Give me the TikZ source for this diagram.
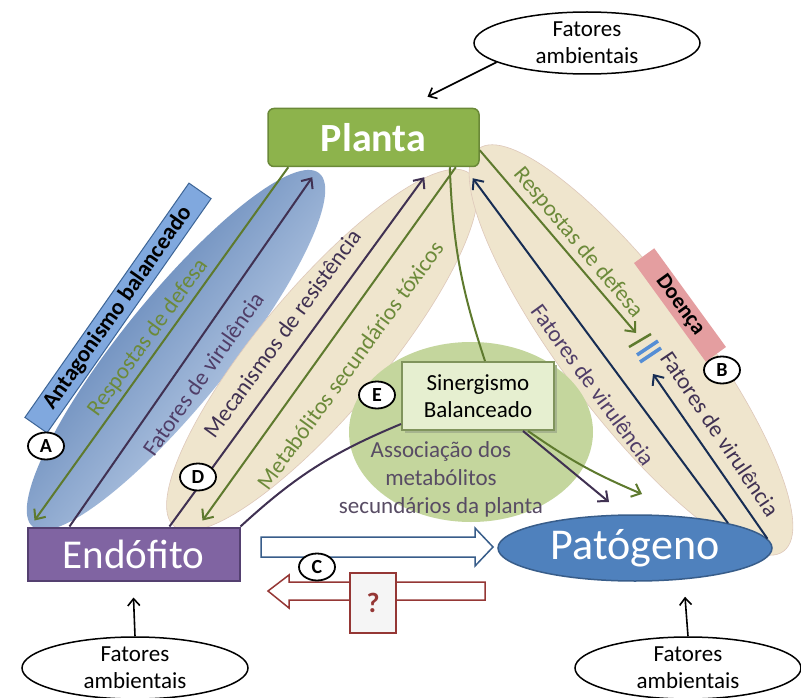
\documentclass[tikz,border=0pt]{standalone}
\usepackage{fontspec}
\setmainfont{Carlito}
\usetikzlibrary{shapes.geometric,arrows.meta}

\definecolor{plantaGreen}{RGB}{141,179,76}
\definecolor{plantaDark}{RGB}{106,137,56}
\definecolor{endoPurple}{RGB}{128,100,162}
\definecolor{endoDark}{RGB}{84,64,112}
\definecolor{patoBlue}{RGB}{79,129,189}
\definecolor{patoDark}{RGB}{56,93,138}
\definecolor{lineGreen}{RGB}{94,122,46}
\definecolor{textGreen}{RGB}{108,138,58}
\definecolor{linePurple}{RGB}{64,49,82}
\definecolor{textPurple}{RGB}{80,62,104}
\definecolor{lineNavy}{RGB}{23,45,84}
\definecolor{tanFill}{RGB}{239,229,205}
\definecolor{tanLine}{RGB}{222,200,186}
\definecolor{blueDark}{RGB}{64,106,166}
\definecolor{blueLight}{RGB}{214,227,245}
\definecolor{greenE}{RGB}{196,214,157}
\definecolor{sinFill}{RGB}{230,239,208}
\definecolor{sinLine}{RGB}{128,148,92}
\definecolor{assocGray}{RGB}{88,76,100}
\definecolor{antagFill}{RGB}{128,168,222}
\definecolor{antagLine}{RGB}{60,100,150}
\definecolor{doencaFill}{RGB}{228,158,160}
\definecolor{barBlue}{RGB}{85,142,213}
\definecolor{redLine}{RGB}{149,55,53}

\newcommand{\fsize}[2]{\fontsize{#1}{#2}\selectfont}

\begin{document}
\begin{tikzpicture}[x=1pt,y=-1pt,
  lab/.style={inner sep=0,font=\fsize{23}{27}},
  lbl/.style={ellipse,draw,line width=1.8pt,fill=white,minimum width=36,minimum height=27,inner sep=0,font=\fsize{20}{20}\bfseries},
  amb/.style={ellipse,draw,line width=1.5pt,fill=white,minimum width=226,minimum height=62,inner sep=0,align=center,font=\fsize{23}{27}},
  tanell/.style={ellipse,fill=tanFill,draw=tanLine,line width=0.6pt,inner sep=0},
  arrG/.style={draw=lineGreen,line width=2pt,-{Straight Barb[length=8pt,width=14pt]}},
  arrP/.style={draw=linePurple,line width=2pt,-{Straight Barb[length=8pt,width=14pt]}},
  arrN/.style={draw=lineNavy,line width=2pt,-{Straight Barb[length=8pt,width=14pt]}},
  arrK/.style={draw=black,line width=1.6pt,-{Straight Barb[length=7pt,width=12pt]}}
]
  \fill[white] (0,0) rectangle (801,698);
  \useasboundingbox (0,0) rectangle (801,698);

  % fundos
  \node[ellipse,inner sep=0,minimum width=455,minimum height=108,rotate=51,
        top color=blueDark,bottom color=blueLight,shading angle=51] (ellA) at (176,350) {};
  \node[tanell,minimum width=460,minimum height=125,rotate=50] (ellD) at (322,350) {};
  \node[tanell,minimum width=505,minimum height=135,rotate=-52.8] (ellB) at (631,350) {};
  \node[ellipse,fill=greenE,inner sep=0,minimum width=244,minimum height=180] (ellE) at (471,432) {};

  \node[draw=antagLine,fill=antagFill,line width=1pt,minimum width=286,minimum height=27,inner sep=0,
        rotate=55,font=\fsize{23}{23}\bfseries] (antag) at (118,308) {Antagonismo balanceado};
  \node[fill=doencaFill,minimum width=122,minimum height=25,inner sep=0,
        rotate=-54,font=\fsize{22}{22}\bfseries] (doenca) at (680,305) {Doença};

  \node[amb] (ambP) at (587,43) {Fatores\\ambientais};
  \node[amb] (ambE) at (135,668) {Fatores\\ambientais};
  \node[amb] (ambG) at (688,668) {Fatores\\ambientais};

  \node[rectangle,rounded corners=6,fill=plantaGreen,draw=plantaDark,line width=1.5pt,
        minimum width=211,minimum height=58,text=white,font=\fsize{40}{40}\bfseries] (planta) at (373.5,137.5) {Planta};
  \node[rectangle,fill=endoPurple,draw=endoDark,line width=2pt,
        minimum width=212,minimum height=53,text=white,font=\fsize{41}{41}] (endofito) at (133.5,554) {Endófito};
  \node[ellipse,fill=patoBlue,draw=patoDark,line width=1.5pt,inner sep=0,
        minimum width=274,minimum height=66,text=white,font=\fsize{44}{44}] (patogeno) at (635,548) {Patógeno};
  \fill[sinLine!70] (405,365) rectangle (557,433);
  \node[rectangle,fill=sinFill,draw=sinLine,line width=2pt,minimum width=152,minimum height=68,
        align=center,font=\fsize{23}{27}] (sinerg) at (478,396) {Sinergismo\\Balanceado};

  % setas das elipses
  \coordinate (stopG) at (636,333);
  \coordinate (stopN) at (653,374);
  \coordinate (tipP) at (609,502);
  \coordinate (tipG) at (642,494);
  \draw[arrG] ([shift={(21,0)}]planta.south west) -- ([shift={(8,-6)}]endofito.north west);
  \draw[arrP] ([shift={(43,0)}]endofito.north west) -- ([shift={(45,10)}]planta.south west);
  \draw[arrP] ([shift={(143,0)}]endofito.north west) -- ([shift={(157,10)}]planta.south west);
  \draw[arrG] ([shift={(-24,0)}]planta.south east) -- ([shift={(176,-6)}]endofito.north west);
  \draw[arrG] ([shift={(0,-17)}]planta.south east) -- (stopG);
  \draw[arrN] (patogeno.15) -- ([shift={(-7,11)}]planta.south east);
  \draw[arrN] (patogeno.4) -- (stopN);
  \draw[lineGreen,line width=2.5pt] (629,347) -- (651,334);
  \draw[barBlue,line width=3.5pt] (637,355) -- (658,341);
  \draw[barBlue,line width=3.5pt] (640,362) -- (661,348);

  \draw[lineGreen,line width=2pt] ([shift={(-30,0)}]planta.south east) to[bend right=8] ([shift={(7,0)}]sinerg.north);
  \draw[linePurple,line width=2pt] (endofito.north east) to[bend left=10] (sinerg.200);
  \draw[arrP] ([shift={(-32,0)}]sinerg.south east) -- (tipP);
  \draw[arrG] ([shift={(-27,0)}]sinerg.south east) to[bend right=6] (tipG);

  \draw[arrK] (ambP.192) -- ([shift={(54,-11)}]planta.north);
  \draw[arrK] (ambE.north) -- ([shift={(0,16)}]endofito.south);
  \draw[arrK] (ambG.north) -- ([shift={(50,15)}]patogeno.south);

  % textos
  \node[lab,text=textGreen,rotate=54] (tA1) at (148,338) {Respostas de defesa};
  \node[lab,text=textPurple,rotate=55] (tA2) at (203,374) {Fatores de virulência};
  \node[lab,text=linePurple,rotate=54] (tD1) at (282,333) {Mecanismos de resistência};
  \node[lab,text=textGreen,rotate=54] (tD2) at (350,365) {Metabólitos secundários tóxicos};
  \node[lab,text=textGreen,rotate=-50] (tB1) at (578,243) {Respostas de defesa};
  \node[lab,text=textPurple,rotate=-54] (tB2) at (593,385) {Fatores de virulência};
  \node[lab,text=linePurple,rotate=-56] (tB3) at (720,434) {Fatores de virulência};
  \node[text=assocGray,align=center,inner sep=0,font=\fsize{23}{28}] (assoc) at (441,479)
    {Associação dos\\metabólitos\\secundários da planta};

  % setas ocas
  \draw[patoDark,line width=1.5pt,fill=white] (261,537) -- (475,537) -- (475,528) -- (493,547)
    -- (475,566) -- (475,557) -- (261,557) -- cycle;
  \draw[redLine,line width=1.5pt,fill=white] (485,582) -- (289,582) -- (289,575) -- (268,591)
    -- (289,608) -- (289,600) -- (485,600) -- cycle;
  \node[draw=redLine,fill=gray!8,line width=1.5pt,minimum width=46,minimum height=60,
        text=redLine,font=\fsize{28}{28}\bfseries] (qbox) at (373,603) {?};

  \node[lbl] (lA) at (46,446) {A};
  \node[lbl] (lB) at (722,370) {B};
  \node[lbl] (lC) at (317,567) {C};
  \node[lbl] (lD) at (198,477) {D};
  \node[lbl] (lE) at (377,395) {E};
\end{tikzpicture}
\end{document}
